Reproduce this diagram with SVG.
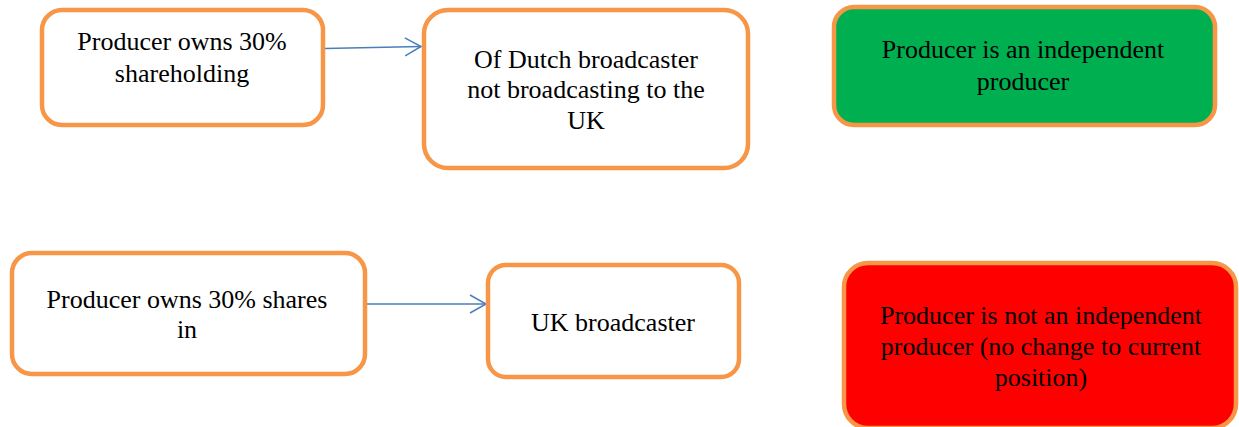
<svg xmlns="http://www.w3.org/2000/svg" width="1239" height="427" viewBox="0 0 1239 427">
<style>
.box{stroke:#F79646;stroke-width:4.5;fill:#FFFFFF}
.t{font-family:"Liberation Serif","Times New Roman",serif;font-size:26px;fill:#000;text-anchor:middle}
.c{stroke:#4A7EBB;stroke-width:1.5;fill:none}
</style>
<defs>
<marker id="ah" markerWidth="20" markerHeight="20" refX="17" refY="10" orient="auto" markerUnits="userSpaceOnUse">
<path d="M1,1 L17,10 L1,19" fill="none" stroke="#4A7EBB" stroke-width="1.5"/>
</marker>
</defs>
<rect width="1239" height="427" fill="#FFFFFF"/>
<g id="connectors">
<line class="c" x1="325" y1="48.5" x2="421" y2="46.5" marker-end="url(#ah)"/>
<line class="c" x1="367" y1="304" x2="486" y2="304" marker-end="url(#ah)"/>
</g>
<g id="n1">
<rect class="box" x="42" y="10" width="281" height="115" rx="20"/>
<text class="t" x="182" y="50">Producer owns 30%</text>
<text class="t" x="182" y="82">shareholding</text>
</g>
<g id="n2">
<rect class="box" x="424" y="10" width="324" height="158" rx="24"/>
<text class="t" x="586" y="68">Of Dutch broadcaster</text>
<text class="t" x="586" y="98">not broadcasting to the</text>
<text class="t" x="586" y="129">UK</text>
</g>
<g id="n3">
<rect class="box" x="834" y="7" width="381" height="118" rx="20" style="fill:#00B050"/>
<text class="t" x="1023" y="58">Producer is an independent</text>
<text class="t" x="1023" y="90">producer</text>
</g>
<g id="n4">
<rect class="box" x="12" y="253" width="353" height="121" rx="20"/>
<text class="t" x="187" y="308">Producer owns 30%  shares</text>
<text class="t" x="187" y="338">in</text>
</g>
<g id="n5">
<rect class="box" x="488" y="265" width="251" height="112" rx="18"/>
<text class="t" x="613" y="331">UK broadcaster</text>
</g>
<g id="n6">
<rect class="box" x="844" y="263" width="392" height="165" rx="24" style="fill:#FF0000"/>
<text class="t" x="1041" y="324">Producer is not an independent</text>
<text class="t" x="1041" y="355">producer (no change to current</text>
<text class="t" x="1041" y="386">position)</text>
</g>
</svg>
